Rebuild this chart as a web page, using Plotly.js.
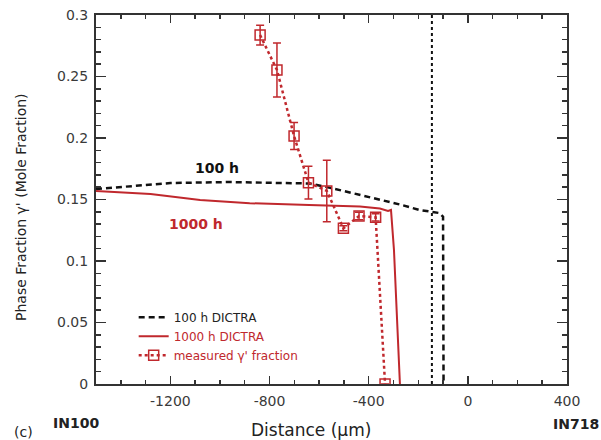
<!DOCTYPE html>
<html>
<head>
<meta charset="utf-8">
<script src="https://cdn.plot.ly/plotly-3.0.1.min.js"></script>
<style>html,body{margin:0;padding:0;background:#fff;}#chart{width:601px;height:440px;}</style>
</head>
<body>
<div id="chart"></div>
<script>
// 100 h DICTRA simulation
const dictra100X = [-1500, -1360, -1200, -960, -720, -640, -545, -395, -275, -195, -145, -115, -100, -98];
const dictra100Y = [0.1585, 0.161, 0.1634, 0.1642, 0.1634, 0.163, 0.159, 0.152, 0.146, 0.1415, 0.140, 0.139, 0.136, 0];
// 1000 h DICTRA simulation
const dictra1000X = [-1500, -1280, -1080, -880, -640, -435, -355, -322, -310, -298, -274];
const dictra1000Y = [0.157, 0.1545, 0.1496, 0.147, 0.1455, 0.1443, 0.1427, 0.1407, 0.1415, 0.109, 0];
// measured gamma' fraction
const measX = [-838, -770, -701, -643, -569, -502, -439, -372, -334];
const measY = [0.2837, 0.2553, 0.2016, 0.1637, 0.157, 0.1266, 0.1366, 0.1355, 0];
const measErr = [0.008, 0.022, 0.011, 0.0133, 0.025, 0.002, 0.003, 0.003, 0];
// original interface position
const interfaceX = [-145, -145];
const interfaceY = [0, 0.3];
// tick labels
const xTickVals = [-1200, -800, -400, 0, 400];
const xTickText = ['-1200', '-800', '-400', '0', '400'];
const yTickVals = [0, 0.05, 0.1, 0.15, 0.2, 0.25, 0.3];
const yTickText = ['0', '0.05', '0.1', '0.15', '0.2', '0.25', '0.3'];

const red = '#c0282d';
const font = 'DejaVu Sans, Liberation Sans, Arial, sans-serif';
const axisCol = '#333';

const traces = [
  {x: dictra100X, y: dictra100Y, mode: 'lines', name: '100 h DICTRA',
   line: {color: '#111', width: 2.5, dash: '6px,4px'}},
  {x: dictra1000X, y: dictra1000Y, mode: 'lines', name: '<span style="color:' + red + '">1000 h DICTRA</span>',
   line: {color: red, width: 2}},
  {x: measX, y: measY, mode: 'lines+markers', name: '<span style="color:' + red + '">measured γ\' fraction</span>',
   line: {color: red, width: 2.5, dash: 'dot'},
   marker: {symbol: 'square-open', size: 10, color: red, line: {width: 1.5, color: red}},
   error_y: {type: 'data', array: measErr, visible: true, color: red, thickness: 1.5, width: 4}},
  {x: interfaceX, y: interfaceY, mode: 'lines', showlegend: false,
   line: {color: '#111', width: 2, dash: 'dot'}},
  // anchor for the mirrored (top/right) tick axes
  {x: [-1500], y: [0], xaxis: 'x2', yaxis: 'y2', mode: 'markers', marker: {opacity: 0}, showlegend: false}
];

const baseAxis = {
  ticks: 'inside', tickwidth: 1.5, tickcolor: axisCol,
  showline: true, linecolor: axisCol, linewidth: 2, zeroline: false, showgrid: false,
  tickfont: {family: font, size: 14, color: '#3a3a3a'}
};

const layout = {
  width: 601, height: 440,
  margin: {l: 96, r: 34, t: 15, b: 56},
  paper_bgcolor: '#fff', plot_bgcolor: '#fff',
  font: {family: font, size: 13, color: '#333'},
  showlegend: true,
  legend: {x: 0.08, y: 0.22, xanchor: 'left', yanchor: 'top', bgcolor: 'rgba(0,0,0,0)',
           font: {family: font, size: 12, color: '#222'}, tracegroupgap: 0},
  xaxis: Object.assign({}, baseAxis, {
    range: [-1500, 400], tickvals: xTickVals, ticktext: xTickText, ticklen: 8, ticklabelstandoff: 3,
    minor: {dtick: 100, tick0: 0, ticks: 'inside', ticklen: 4, tickwidth: 1.5, tickcolor: axisCol}
  }),
  yaxis: Object.assign({}, baseAxis, {
    range: [0, 0.3], tickvals: yTickVals, ticktext: yTickText, ticklen: 10, ticklabelstandoff: 3,
    minor: {dtick: 0.01, tick0: 0, ticks: 'inside', ticklen: 5, tickwidth: 1.5, tickcolor: axisCol}
  }),
  xaxis2: Object.assign({}, baseAxis, {
    range: [-1500, 400], overlaying: 'x', side: 'top', anchor: 'y2', tickvals: xTickVals,
    showticklabels: false, ticklen: 8,
    minor: {dtick: 100, tick0: 0, ticks: 'inside', ticklen: 4, tickwidth: 1.5, tickcolor: axisCol}
  }),
  yaxis2: Object.assign({}, baseAxis, {
    range: [0, 0.3], overlaying: 'y', side: 'right', anchor: 'x2', tickvals: yTickVals,
    showticklabels: false, ticklen: 10,
    minor: {dtick: 0.01, tick0: 0, ticks: 'inside', ticklen: 5, tickwidth: 1.5, tickcolor: axisCol}
  }),
  annotations: [
    {x: -1010, y: 0.1756, xref: 'x', yref: 'y', text: '<b>100 h</b>', showarrow: false,
     font: {family: font, size: 14, color: '#111'}},
    {x: -1095, y: 0.130, xref: 'x', yref: 'y', text: '<b>1000 h</b>', showarrow: false,
     font: {family: font, size: 14, color: red}},
    {px: 76, py: 423, text: '<b>IN100</b>', font: {family: font, size: 14, color: '#222'}},
    {px: 576, py: 424, text: '<b>IN718</b>', font: {family: font, size: 14, color: '#222'}},
    {px: 23, py: 432, text: '(c)', font: {family: font, size: 14, color: '#222'}},
    {px: 311, py: 430, text: 'Distance (μm)', font: {family: font, size: 17, color: '#222'}},
    {px: 21, py: 207, text: "Phase Fraction γ' (Mole Fraction)", textangle: -90,
     font: {family: font, size: 14, color: '#222'}}
  ]
};
// place pixel-positioned labels in paper coordinates (centred on the given pixel)
layout.annotations.forEach(a => {
  if (a.px !== undefined) {
    a.xref = 'paper'; a.yref = 'paper'; a.showarrow = false;
    a.xanchor = 'center'; a.yanchor = 'middle';
    a.x = (a.px - 96) / (601 - 96 - 34);
    a.y = (440 - 56 - a.py) / (440 - 15 - 56);
    delete a.px; delete a.py;
  }
});

Plotly.newPlot('chart', traces, layout, {displayModeBar: false, staticPlot: true});
</script>
</body>
</html>
